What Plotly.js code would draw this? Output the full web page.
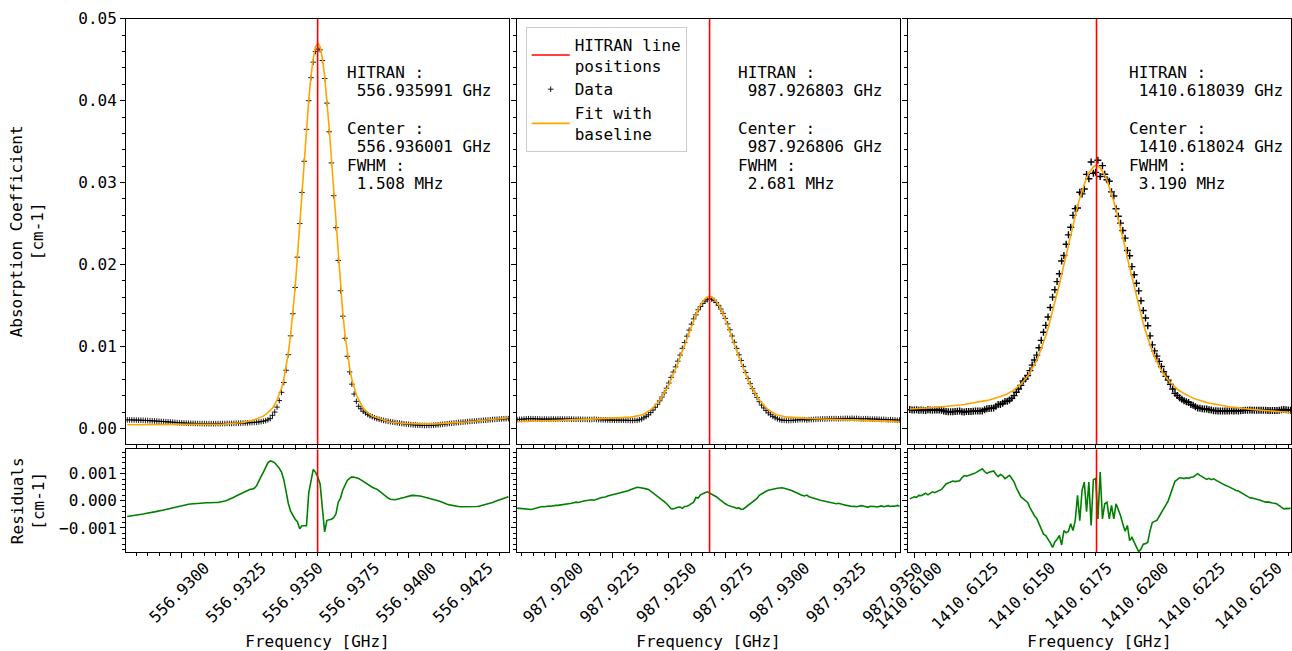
<!DOCTYPE html>
<html>
<head>
<meta charset="utf-8">
<script src="https://cdn.plot.ly/plotly-3.0.1.min.js"></script>
<style>
html,body{margin:0;padding:0;background:#ffffff;}
#chart{width:1292px;height:651px;}
</style>
</head>
<body>
<div id="chart"></div>
<script>
// ---------------- data ----------------
const freqStart = [556.9276, 987.9183, 1410.6098];   // GHz, first sample of each spectrum
const freqStep = 0.0001;                              // GHz between samples
const hitranLines = [556.935991, 987.926803, 1410.618039];
const fitCenters = [556.936001, 987.926806, 1410.618024];
const fwhmMHz = [1.508, 2.681, 3.190];
const xTickStart = [556.9300, 987.9200, 1410.6100];
const xRanges = [[556.927544, 556.944427], [987.918291, 987.93522], [1410.609722, 1410.626618]];
const yRangeTop = [-0.0019, 0.05];
const yRangeRes = [-0.0019, 0.0019];

const dataP1 = [
0.00105,0.00104,0.00104,0.00103,0.00102,0.00101,0.001,0.00099,0.00097,0.00096,
0.00094,0.00093,0.00091,0.00089,0.00088,0.00086,0.00084,0.00082,0.0008,0.00078,
0.00076,0.00074,0.00071,0.00069,0.00068,0.00066,0.00065,0.00063,0.00063,0.00062,
0.00061,0.0006,0.0006,0.00059,0.00059,0.00058,0.00058,0.00058,0.00058,0.00058,
0.00059,0.00059,0.0006,0.0006,0.00061,0.00061,0.00062,0.00062,0.00063,0.00064,
0.00065,0.00066,0.00067,0.00068,0.0007,0.00072,0.00074,0.00076,0.00079,0.00083,
0.00088,0.00095,0.00105,0.0012,0.0016,0.002,0.0026,0.0034,0.0044,0.0056,
0.0071,0.009,0.0113,0.014,0.0172,0.0209,0.025,0.0288,0.0326,0.0365,
0.04,0.0428,0.0447,0.046,0.0463,0.0462,0.0449,0.0427,0.0397,0.0362,
0.0324,0.0284,0.0245,0.0205,0.0168,0.0137,0.011,0.0088,0.0069,0.0054,
0.0042,0.0033,0.0027,0.0024,0.0021,0.0019,0.0017,0.00155,0.00142,0.0013,
0.0012,0.00112,0.00105,0.00098,0.00092,0.00087,0.00082,0.00077,0.00073,0.00069,
0.00065,0.00061,0.00057,0.00053,0.0005,0.00047,0.00044,0.00042,0.0004,0.00038,
0.00037,0.00036,0.00036,0.00036,0.00037,0.00039,0.00041,0.00044,0.00047,0.0005,
0.00054,0.00057,0.0006,0.00063,0.00066,0.00069,0.00072,0.00075,0.00078,0.0008,
0.00083,0.00086,0.00088,0.0009,0.00092,0.00095,0.00097,0.00099,0.00101,0.00103,
0.00106,0.00108,0.0011,0.00112,0.00114,0.00116,0.00118,0.00119,0.0012
];
const fitP1 = [
0.00044,0.00044,0.00044,0.00044,0.00044,0.00044,0.00044,0.00044,0.00045,0.00045,
0.00045,0.00045,0.00045,0.00045,0.00045,0.00045,0.00046,0.00046,0.00046,0.00046,
0.00046,0.00046,0.00046,0.00046,0.00046,0.00046,0.00046,0.00047,0.00047,0.00047,
0.00047,0.00047,0.00047,0.00047,0.00048,0.00048,0.00048,0.00049,0.00049,0.0005,
0.00051,0.00052,0.00053,0.00054,0.00055,0.00057,0.00059,0.00061,0.00064,0.00067,
0.0007,0.00074,0.00078,0.00084,0.0009,0.00097,0.00105,0.00115,0.00125,0.0014,
0.0015,0.0017,0.0019,0.0022,0.0025,0.0029,0.0035,0.0041,0.0049,0.006,
0.0074,0.0092,0.0114,0.0141,0.0172,0.0209,0.025,0.0289,0.0329,0.0367,
0.0401,0.043,0.0452,0.0466,0.047,0.0466,0.0452,0.043,0.0401,0.0367,
0.0329,0.0289,0.025,0.0209,0.0172,0.0141,0.0114,0.0092,0.0074,0.006,
0.0049,0.0041,0.0035,0.0029,0.0025,0.0022,0.0019,0.0017,0.0015,0.0014,
0.00125,0.00115,0.00105,0.00097,0.0009,0.00084,0.00078,0.00074,0.0007,0.00067,
0.00064,0.00062,0.0006,0.00058,0.00057,0.00056,0.00055,0.00055,0.00055,0.00055,
0.00055,0.00055,0.00055,0.00055,0.00055,0.00055,0.00055,0.00056,0.00057,0.00058,
0.0006,0.00062,0.00064,0.00066,0.00068,0.0007,0.00072,0.00074,0.00076,0.00078,
0.0008,0.00083,0.00085,0.00088,0.0009,0.00093,0.00095,0.00098,0.001,0.00103,
0.00105,0.00108,0.00112,0.00115,0.00118,0.00122,0.00125,0.00128,0.00132
];
const resP1 = [
-0.00058,-0.00057,-0.00056,-0.00054,-0.00053,-0.00052,-0.0005,-0.00049,-0.00047,-0.00046,
-0.00044,-0.00043,-0.00041,-0.00039,-0.00038,-0.00036,-0.00034,-0.00032,-0.0003,-0.00028,
-0.00026,-0.00024,-0.00021,-0.00019,-0.00018,-0.00016,-0.00015,-0.00013,-0.00012,-0.00011,
-0.0001,-0.00009,-0.00009,-0.00008,-0.00007,-0.00007,-0.00007,-0.00006,-0.00006,-0.00006,
-0.00006,-0.00005,-0.00003,-0.00001,0.00002,0.00005,0.00009,0.00013,0.00018,0.00022,
0.00027,0.00032,0.00036,0.00039,0.00042,0.00043,0.00046,0.00055,0.0007,0.0009,
0.00106,0.00125,0.0014,0.00147,0.00145,0.0014,0.00131,0.0012,0.00106,0.00078,
0.00035,-0.0001,-0.00038,-0.00055,-0.00068,-0.00077,-0.00103,-0.00092,-0.00093,-0.00092,
0.0003,0.00072,0.00116,0.00105,0.00088,0.00062,-0.0002,-0.00115,-0.00072,-0.00071,
-0.00068,-0.00062,-0.00048,-0.00005,0.0001,0.0004,0.00058,0.00075,0.00083,0.00088,
0.00087,0.00085,0.00082,0.00077,0.00071,0.00065,0.0006,0.00055,0.0005,0.00046,
0.00043,0.00037,0.0003,0.00022,0.00016,0.0001,0.00006,0.00004,0.00004,0.00006,
0.00007,0.0001,0.00012,0.00015,0.00017,0.00019,0.0002,0.0002,0.00019,0.00018,
0.00016,0.00014,0.00012,0.0001,0.00008,0.00006,0.00003,0.0,-0.00003,-0.00007,
-0.0001,-0.00013,-0.00015,-0.00017,-0.00018,-0.0002,-0.00021,-0.00022,-0.00022,-0.00023,
-0.00023,-0.00023,-0.00022,-0.00022,-0.00021,-0.0002,-0.00018,-0.00016,-0.00014,-0.00011,
-0.00008,-0.00006,-0.00003,0.0,0.00003,0.00006,0.00009,0.00012,0.00015
];

const dataP2 = [
0.00108,0.00111,0.00112,0.00114,0.00117,0.00118,0.00119,0.00118,0.00117,0.00116,
0.00115,0.00112,0.00115,0.00114,0.00113,0.00115,0.00115,0.00114,0.00115,0.00116,
0.00114,0.00114,0.00114,0.00115,0.00113,0.00113,0.00111,0.00113,0.00111,0.00111,
0.0011,0.0011,0.00109,0.00109,0.00112,0.0011,0.00107,0.00106,0.00105,0.00105,
0.00102,0.00102,0.00102,0.00101,0.00101,0.00101,0.001,0.00101,0.00099,0.00099,
0.00097,0.00097,0.00099,0.00099,0.00106,0.00115,0.0013,0.00147,0.00166,0.00193,
0.00224,0.00258,0.00295,0.00337,0.00383,0.00434,0.00491,0.00554,0.00623,0.00688,
0.00751,0.00821,0.00895,0.00977,0.01048,0.01126,0.012,0.01272,0.01337,0.01386,
0.01448,0.01488,0.01525,0.01553,0.0157,0.0158,0.01578,0.01563,0.01537,0.01502,
0.01457,0.01404,0.01343,0.01276,0.01204,0.01128,0.01051,0.00977,0.00898,0.00829,
0.00755,0.00682,0.0061,0.00546,0.00485,0.00428,0.00378,0.00327,0.00285,0.0025,
0.00218,0.0019,0.00167,0.00147,0.00131,0.00117,0.00108,0.00101,0.00099,0.00097,
0.00096,0.00097,0.00099,0.00102,0.00104,0.00107,0.00107,0.00107,0.00102,0.00107,
0.00108,0.00109,0.00112,0.00113,0.00114,0.00116,0.00116,0.00117,0.00119,0.00119,
0.00119,0.0012,0.00117,0.0012,0.0012,0.00122,0.00122,0.00122,0.00124,0.00121,
0.00122,0.0012,0.00116,0.00116,0.00119,0.00119,0.00114,0.00114,0.00114,0.00114,
0.00112,0.00109,0.00111,0.00108,0.00105,0.00107,0.00105,0.00104,0.001,0.00103
];
const fitP2 = [
0.00081,0.00083,0.00083,0.00084,0.00086,0.00086,0.00087,0.00088,0.00089,0.0009,
0.00091,0.00091,0.00093,0.00094,0.00094,0.00095,0.00097,0.00097,0.00098,0.001,
0.001,0.00101,0.00103,0.00103,0.00104,0.00106,0.00106,0.00107,0.00108,0.00109,
0.0011,0.00111,0.00112,0.00113,0.00114,0.00116,0.00116,0.00117,0.00118,0.00119,
0.0012,0.00122,0.00123,0.00125,0.00127,0.00129,0.00131,0.00133,0.00134,0.00136,
0.00138,0.00141,0.00145,0.00149,0.00155,0.00163,0.00176,0.00191,0.00208,0.00229,
0.00253,0.0028,0.00311,0.00347,0.00387,0.00431,0.00481,0.00535,0.00594,0.00658,
0.00725,0.00797,0.00872,0.00949,0.01027,0.01106,0.01184,0.0126,0.01332,0.01398,
0.01458,0.0151,0.01552,0.01583,0.01603,0.01609,0.01603,0.01583,0.01552,0.0151,
0.01458,0.01398,0.01332,0.0126,0.01184,0.01106,0.01027,0.00949,0.00872,0.00797,
0.00725,0.00658,0.00594,0.00535,0.00481,0.00431,0.00387,0.00347,0.00311,0.0028,
0.00253,0.00229,0.00208,0.00191,0.00176,0.00163,0.00155,0.00149,0.00145,0.00141,
0.00138,0.00136,0.00134,0.00133,0.00131,0.00129,0.00127,0.00125,0.00123,0.00122,
0.0012,0.00119,0.00118,0.00117,0.00116,0.00116,0.00114,0.00113,0.00112,0.00111,
0.0011,0.00109,0.00108,0.00107,0.00106,0.00106,0.00104,0.00103,0.00103,0.00101,
0.001,0.001,0.00098,0.00097,0.00097,0.00095,0.00094,0.00094,0.00093,0.00091,
0.00091,0.0009,0.00089,0.00088,0.00087,0.00086,0.00086,0.00084,0.00083,0.00083
];
const resP2 = [
-0.00027,-0.00028,-0.00029,-0.0003,-0.00031,-0.00032,-0.00032,-0.0003,-0.00028,-0.00026,
-0.00024,-0.00021,-0.00022,-0.0002,-0.00019,-0.0002,-0.00018,-0.00017,-0.00017,-0.00016,
-0.00014,-0.00013,-0.00011,-0.00012,-0.00009,-0.00007,-0.00005,-0.00006,-0.00003,-0.00002,
0.0,0.00001,0.00003,0.00004,0.00002,0.00006,0.00009,0.00011,0.00013,0.00014,
0.00018,0.0002,0.00021,0.00024,0.00026,0.00028,0.00031,0.00032,0.00035,0.00037,
0.00041,0.00044,0.00046,0.0005,0.00049,0.00048,0.00046,0.00044,0.00042,0.00036,
0.00029,0.00022,0.00016,0.0001,0.00004,-0.00003,-0.0001,-0.00019,-0.00029,-0.0003,
-0.00026,-0.00024,-0.00023,-0.00028,-0.00021,-0.0002,-0.00016,-0.00012,-0.00005,0.00012,
0.0001,0.00022,0.00027,0.0003,0.00033,0.00029,0.00025,0.0002,0.00015,0.00008,
0.00001,-0.00006,-0.00011,-0.00016,-0.0002,-0.00022,-0.00024,-0.00028,-0.00026,-0.00032,
-0.0003,-0.00024,-0.00016,-0.00011,-0.00004,0.00003,0.00009,0.0002,0.00026,0.0003,
0.00035,0.00039,0.00041,0.00044,0.00045,0.00046,0.00047,0.00048,0.00046,0.00044,
0.00042,0.00039,0.00035,0.00031,0.00027,0.00022,0.0002,0.00018,0.00021,0.00015,
0.00012,0.0001,0.00006,0.00004,0.00002,0.0,-0.00002,-0.00004,-0.00007,-0.00008,
-0.00009,-0.00011,-0.00009,-0.00013,-0.00014,-0.00016,-0.00018,-0.00019,-0.00021,-0.0002,
-0.00022,-0.0002,-0.00018,-0.00019,-0.00022,-0.00024,-0.0002,-0.0002,-0.00021,-0.00023,
-0.00021,-0.00019,-0.00022,-0.0002,-0.00018,-0.00021,-0.00019,-0.0002,-0.00017,-0.0002
];

const dataP3 = [
0.0023,0.00226,0.00224,0.00227,0.00222,0.00224,0.00221,0.00219,0.00227,0.00224,
0.00221,0.00226,0.00224,0.00224,0.00221,0.00213,0.00206,0.00204,0.00203,0.00203,
0.00208,0.00209,0.00212,0.00204,0.002,0.00206,0.00206,0.00208,0.0021,0.00212,
0.00213,0.00213,0.00212,0.00228,0.00241,0.00243,0.00246,0.0025,0.00272,0.00291,
0.00293,0.00308,0.00328,0.00332,0.00346,0.00368,0.004,0.00442,0.00482,0.00525,
0.00578,0.00602,0.00646,0.00705,0.00773,0.00835,0.00895,0.00985,0.01075,0.01173,
0.01258,0.0136,0.01475,0.01602,0.01692,0.01792,0.01888,0.02043,0.0211,0.02248,
0.02362,0.02455,0.026,0.02682,0.0269,0.02883,0.02862,0.02921,0.031,0.03046,
0.03251,0.03113,0.03125,0.03272,0.03074,0.03207,0.03101,0.03035,0.03017,0.02887,
0.02837,0.02681,0.0259,0.02505,0.02416,0.02322,0.02171,0.02107,0.01975,0.01875,
0.01772,0.01678,0.01558,0.0144,0.01348,0.01253,0.0113,0.0102,0.00946,0.00882,
0.00818,0.00755,0.00692,0.00635,0.0059,0.00538,0.00482,0.00428,0.00402,0.00375,
0.00356,0.00338,0.00325,0.00317,0.00293,0.00282,0.00266,0.0025,0.00246,0.0024,
0.00237,0.00237,0.00227,0.00226,0.00217,0.00216,0.00213,0.00214,0.00213,0.00214,
0.00213,0.00214,0.00215,0.00214,0.00215,0.00214,0.00216,0.00219,0.00221,0.00223,
0.00224,0.00222,0.00223,0.00221,0.00221,0.00221,0.00222,0.00223,0.00219,0.0022,
0.00219,0.00218,0.00219,0.00223,0.00228,0.00231,0.00227,0.00226,0.00222
];
const fitP3 = [
0.00237,0.00238,0.00239,0.0024,0.00242,0.00243,0.00245,0.00247,0.00249,0.00251,
0.00254,0.00256,0.00258,0.0026,0.00263,0.00265,0.00268,0.0027,0.00273,0.00276,
0.00279,0.00282,0.00286,0.00289,0.00293,0.00297,0.00301,0.00305,0.0031,0.00315,
0.0032,0.00325,0.0033,0.00336,0.00342,0.00348,0.00355,0.0036,0.0037,0.0038,
0.0039,0.004,0.0041,0.0042,0.0044,0.0045,0.0047,0.0049,0.0051,0.0054,
0.0057,0.006,0.0064,0.0068,0.0073,0.0078,0.0083,0.009,0.0097,0.0105,
0.0113,0.0122,0.0132,0.0143,0.0154,0.0165,0.0176,0.0188,0.02,0.0213,
0.0225,0.0237,0.0249,0.0261,0.0271,0.0281,0.029,0.0299,0.0306,0.03115,
0.0316,0.03191,0.03207,0.03205,0.0318,0.0314,0.0309,0.0303,0.0295,0.0287,
0.0277,0.0267,0.0256,0.0245,0.0233,0.0221,0.0208,0.0196,0.0184,0.0172,
0.016,0.0149,0.0138,0.0128,0.0119,0.011,0.0102,0.0094,0.0087,0.0081,
0.0076,0.0071,0.0066,0.0062,0.0059,0.0056,0.0053,0.005,0.0048,0.0046,
0.0044,0.0042,0.0041,0.004,0.0038,0.0037,0.0036,0.0035,0.0034,0.0033,
0.00323,0.00316,0.0031,0.00304,0.00298,0.00292,0.00287,0.00282,0.00277,0.00272,
0.00268,0.00264,0.0026,0.00256,0.00253,0.0025,0.00247,0.00244,0.00241,0.00238,
0.00235,0.00232,0.0023,0.00227,0.00225,0.00222,0.0022,0.00218,0.00215,0.00213,
0.00211,0.00209,0.00207,0.00205,0.00203,0.00201,0.00199,0.00197,0.00195
];
const resP3 = [
0.00007,0.00012,0.00015,0.00013,0.0002,0.00019,0.00024,0.00028,0.00022,0.00027,
0.00033,0.0003,0.00034,0.00036,0.00042,0.00052,0.00062,0.00066,0.0007,0.00073,
0.00071,0.00073,0.00074,0.00085,0.00093,0.00091,0.00095,0.00097,0.001,0.00103,
0.00107,0.00112,0.00118,0.00108,0.00101,0.00105,0.00109,0.0011,0.00098,0.00089,
0.00097,0.00092,0.00082,0.00088,0.00094,0.00082,0.0007,0.00048,0.00028,0.00015,
0.00008,0.00002,-0.00006,-0.00025,-0.00043,-0.00055,-0.00065,-0.00085,-0.00105,-0.00123,
-0.00128,-0.0014,-0.00155,-0.00172,-0.00152,-0.00142,-0.00128,-0.00163,-0.0011,-0.00118,
-0.00112,-0.00085,-0.0011,-0.00072,0.0002,-0.00073,0.00038,0.00069,-0.0004,0.00069,
-0.00091,0.00078,0.00082,-0.00067,0.00106,-0.00067,-0.00011,-0.00005,-0.00067,-0.00017,
-0.00067,-0.00011,-0.0003,-0.00055,-0.00086,-0.00112,-0.00091,-0.00147,-0.00135,-0.00155,
-0.00172,-0.00188,-0.00178,-0.0016,-0.00158,-0.00153,-0.0011,-0.0008,-0.00076,-0.00072,
-0.00058,-0.00045,-0.00032,-0.00015,0.0,0.00022,0.00048,0.00072,0.00078,0.00085,
0.00084,0.00082,0.00085,0.00083,0.00087,0.00088,0.00094,0.001,0.00094,0.0009,
0.00086,0.00079,0.00083,0.00078,0.00081,0.00076,0.00074,0.00068,0.00064,0.00058,
0.00055,0.0005,0.00045,0.00042,0.00038,0.00036,0.00031,0.00025,0.0002,0.00015,
0.00011,0.0001,0.00007,0.00006,0.00004,0.00001,-0.00002,-0.00005,-0.00004,-0.00007,
-0.00008,-0.00009,-0.00012,-0.00018,-0.00025,-0.0003,-0.00028,-0.00029,-0.00027
];

const seriesData = [dataP1, dataP2, dataP3];
const seriesFit = [fitP1, fitP2, fitP3];
const seriesRes = [resP1, resP2, resP3];

// ---------------- figure ----------------
const W = 1292, H = 651;
const FONT = 'DejaVu Sans Mono';
const colDomains = [[126, 509], [517, 900], [908, 1291]];
const topDomainPx = [18.7, 444];
const resDomainPx = [449.3, 552.3];
const pxX = v => v / W;
const pxY = v => 1 - v / H;

const traces = [];
const markerSizes = [4, 4, 5];
const markerWidths = [0.9, 0.9, 1.4];

for (let k = 0; k < 3; k++) {
  const xa = k === 0 ? 'x' : 'x' + (k + 1);
  const ya = k === 0 ? 'y' : 'y' + (k + 1);
  const xr = 'x' + (k + 4);
  const yr = 'y' + (k + 4);
  traces.push({
    type: 'scatter', mode: 'markers', name: 'Data',
    x0: freqStart[k], dx: freqStep, y: seriesData[k],
    xaxis: xa, yaxis: ya, showlegend: k === 1, legendrank: 2,
    marker: {symbol: 'cross-thin', size: markerSizes[k], color: 'black',
             line: {color: 'black', width: markerWidths[k]}}
  });
  traces.push({
    type: 'scatter', mode: 'lines', name: 'Fit with<br>baseline',
    x0: freqStart[k], dx: freqStep, y: seriesFit[k],
    xaxis: xa, yaxis: ya, showlegend: k === 1, legendrank: 3,
    line: {color: '#FFA500', width: 1.6}
  });
  traces.push({
    type: 'scatter', mode: 'lines', name: 'Residuals',
    x0: freqStart[k], dx: freqStep, y: seriesRes[k],
    xaxis: xr, yaxis: yr, showlegend: false,
    line: {color: '#008000', width: 1.6}
  });
  traces.push({
    type: 'scatter', mode: 'lines', name: 'HITRAN line<br>positions',
    x: [hitranLines[k], hitranLines[k]], y: yRangeTop,
    xaxis: xa, yaxis: ya, showlegend: k === 1, legendrank: 1,
    line: {color: '#FF0000', width: 1.6}
  });
  traces.push({
    type: 'scatter', mode: 'lines', name: 'HITRAN',
    x: [hitranLines[k], hitranLines[k]], y: yRangeRes,
    xaxis: xr, yaxis: yr, showlegend: false,
    line: {color: '#FF0000', width: 1.6}
  });
}

const baseAxis = {
  showline: true, linecolor: 'black', linewidth: 1, mirror: true,
  ticks: 'outside', ticklen: 5, tickwidth: 1, tickcolor: 'black',
  showgrid: false, zeroline: false,
  tickfont: {family: FONT, size: 16, color: 'black'},
  minor: {ticks: 'outside', ticklen: 3, tickwidth: 1, tickcolor: 'black', showgrid: false}
};

const layout = {
  width: W, height: H,
  margin: {l: 0, r: 0, t: 0, b: 0, pad: 0},
  paper_bgcolor: 'white', plot_bgcolor: 'white',
  font: {family: FONT, size: 16, color: 'black'},
  hovermode: false,
  showlegend: true,
  legend: {
    x: pxX(525.7), y: pxY(26.7), xanchor: 'left', yanchor: 'top',
    bgcolor: 'rgba(255,255,255,0.8)', bordercolor: '#cccccc', borderwidth: 1,
    font: {family: FONT, size: 16, color: 'black'},
    itemwidth: 38, tracegroupgap: 0, valign: 'middle'
  },
  annotations: []
};

for (let k = 0; k < 3; k++) {
  const topX = k === 0 ? 'xaxis' : 'xaxis' + (k + 1);
  const topY = k === 0 ? 'yaxis' : 'yaxis' + (k + 1);
  const resX = 'xaxis' + (k + 4);
  const resY = 'yaxis' + (k + 4);
  const xd = [pxX(colDomains[k][0]), pxX(colDomains[k][1])];
  const xticks = {tick0: xTickStart[k], dtick: 0.0025, tickformat: '.4f'};
  layout[topX] = Object.assign({}, baseAxis, xticks, {
    domain: xd, range: xRanges[k], anchor: k === 0 ? 'y' : 'y' + (k + 1),
    showticklabels: false,
    minor: Object.assign({}, baseAxis.minor, {dtick: 0.0005, tick0: xTickStart[k]})
  });
  layout[resX] = Object.assign({}, baseAxis, xticks, {
    domain: xd, range: xRanges[k], anchor: 'y' + (k + 4),
    tickangle: -45, ticklabelshift: 23, ticklabelstandoff: -6,
    minor: Object.assign({}, baseAxis.minor, {dtick: 0.0005, tick0: xTickStart[k]}),
    title: {text: 'Frequency [GHz]', font: {family: FONT, size: 16, color: 'black'}, standoff: 23}
  });
  layout[topY] = Object.assign({}, baseAxis, {
    domain: [pxY(topDomainPx[1]), pxY(topDomainPx[0])], range: yRangeTop,
    anchor: k === 0 ? 'x' : 'x' + (k + 1),
    tick0: 0, dtick: 0.01, tickformat: '.2f', showticklabels: k === 0,
    minor: Object.assign({}, baseAxis.minor, {dtick: 0.002, tick0: 0})
  });
  layout[resY] = Object.assign({}, baseAxis, {
    domain: [pxY(resDomainPx[1]), pxY(resDomainPx[0])], range: yRangeRes,
    anchor: 'x' + (k + 4),
    tick0: 0, dtick: 0.001, tickformat: '.3f', showticklabels: k === 0,
    minor: Object.assign({}, baseAxis.minor, {dtick: 0.0002, tick0: 0})
  });
}
layout.yaxis.title = {text: 'Absorption Coefficient<br>[cm-1]', font: {family: FONT, size: 16, color: 'black'}, standoff: 30};
layout.yaxis4.title = {text: 'Residuals<br>[cm-1]', font: {family: FONT, size: 16, color: 'black'}, standoff: 10};

// info text blocks
const NB = '\u00a0';
const infoX = [345, 736, 1127];
const infoLineY = [72.5, 90.8, 128.3, 146.8, 165, 183.3];
for (let k = 0; k < 3; k++) {
  const lines = [
    'HITRAN :',
    NB + hitranLines[k].toFixed(6) + ' GHz',
    'Center :',
    NB + fitCenters[k].toFixed(6) + ' GHz',
    'FWHM :',
    NB + fwhmMHz[k].toFixed(3) + ' MHz'
  ];
  lines.forEach((t, j) => {
    layout.annotations.push({
      text: t, showarrow: false, xref: 'paper', yref: 'paper',
      x: pxX(infoX[k]), y: pxY(infoLineY[j]), xanchor: 'left', yanchor: 'middle',
      font: {family: FONT, size: 16, color: 'black'}
    });
  });
}

Plotly.newPlot('chart', traces, layout, {staticPlot: true, displayModeBar: false});
</script>
</body>
</html>
